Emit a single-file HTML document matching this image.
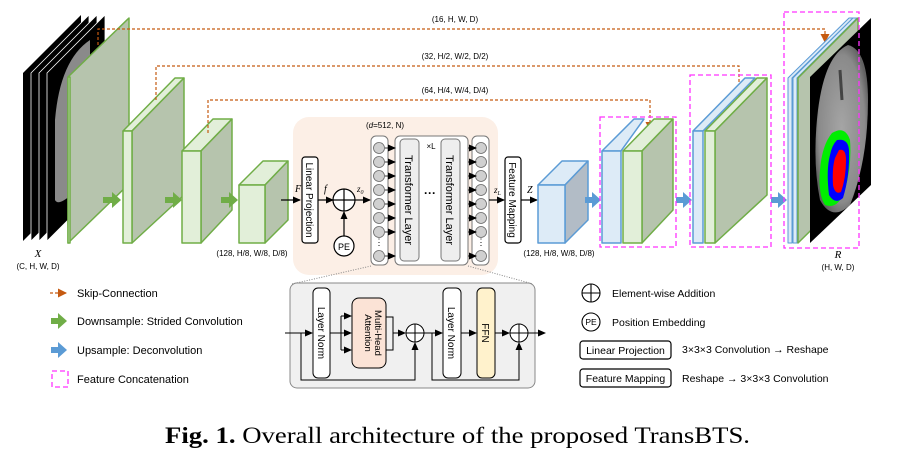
<!DOCTYPE html>
<html><head><meta charset="utf-8"><style>
html,body{margin:0;padding:0;background:#fff;}
svg{display:block;font-family:"Liberation Sans",sans-serif;}
</style></head><body>
<svg width="911" height="456" viewBox="0 0 911 456" xmlns="http://www.w3.org/2000/svg">
<defs>
<marker id="ab" markerWidth="8" markerHeight="8" refX="7" refY="4" orient="auto" markerUnits="userSpaceOnUse"><path d="M0,0.5 L8,4 L0,7.5z" fill="#000"/></marker>
<marker id="ao" markerWidth="9" markerHeight="9" refX="8" refY="4.5" orient="auto" markerUnits="userSpaceOnUse"><path d="M0,0 L9,4.5 L0,9z" fill="#c55a11"/></marker>
<radialGradient id="br" cx="50%" cy="50%" r="55%"><stop offset="0" stop-color="#a5a5a5"/><stop offset="0.8" stop-color="#8a8a8a"/><stop offset="1" stop-color="#606060"/></radialGradient>
</defs>

<!-- MRI slices -->
<g>
<polygon points="23,73 81,15 81,183 23,241" fill="#000"/>
<polygon points="31,73 89,15 89,183 31,241" fill="#000" stroke="#fff" stroke-width="0.8"/>
<polygon points="39,73 97,15 97,183 39,241" fill="#000" stroke="#fff" stroke-width="0.8"/>
<polygon points="47,73 105,15 105,183 47,241" fill="#000" stroke="#fff" stroke-width="0.8"/>
<path d="M55,120 Q60,60 90,40 L90,175 Q60,210 55,200z" fill="#8a8a8a"/>
</g>

<!-- encoder boxes -->
<g stroke="#70ad47" stroke-width="1.5" stroke-linejoin="round">
<polygon points="68,77 129,18 129,184 68,243" fill="#b6c4ad"/>
<rect x="68" y="77" width="2" height="166" fill="#e2efd9"/>
<polygon points="123,131 175,78 184,78 132,131" fill="#e2efd9"/>
<polygon points="132,131 184,78 184,195 132,243" fill="#b6c4ad"/>
<rect x="123" y="131" width="9" height="112" fill="#e2efd9"/>
<polygon points="182,151 213,119 232,119 201,151" fill="#e2efd9"/>
<polygon points="201,151 232,119 232,210 201,243" fill="#b6c4ad"/>
<rect x="182" y="151" width="19" height="92" fill="#e2efd9"/>
<polygon points="239,185 263,161 288,161 265,185" fill="#e2efd9"/>
<polygon points="265,185 288,161 288,220 265,243" fill="#b6c4ad"/>
<rect x="239" y="185" width="26" height="58" fill="#e2efd9"/>
</g>
<g fill="#70ad47">
<path d="M103,197 h9 v-5 l9,8 -9,8 v-5 h-9z"/>
<path d="M165,197 h8 v-5 l9,8 -9,8 v-5 h-8z"/>
<path d="M221,197 h8 v-5 l9,8 -9,8 v-5 h-8z"/>
</g>

<text x="38" y="257" font-family="Liberation Serif,serif" font-style="italic" font-size="11" text-anchor="middle">X</text>
<text x="38" y="269" font-size="8" text-anchor="middle">(C, H, W, D)</text>
<text x="252" y="256" font-size="8" text-anchor="middle">(128, H/8, W/8, D/8)</text>
<text x="559" y="256" font-size="8" text-anchor="middle">(128, H/8, W/8, D/8)</text>

<!-- skip connections -->
<g stroke="#c55a11" stroke-width="1.2" stroke-dasharray="3,2" fill="none">
<path d="M98,45 V29 H825 V42" marker-end="url(#ao)"/>
<path d="M156,100 V66 H739 V97" marker-end="url(#ao)"/>
<path d="M208,133 V100 H650 V130" marker-end="url(#ao)"/>
</g>
<g font-size="8" text-anchor="middle">
<text x="455" y="22">(16, H, W, D)</text>
<text x="455" y="59">(32, H/2, W/2, D/2)</text>
<text x="455" y="93">(64, H/4, W/4, D/4)</text>
</g>

<!-- transformer region -->
<rect x="293" y="117" width="205" height="158" rx="16" fill="#fcefe6"/>
<line x1="281" y1="200" x2="300" y2="200" stroke="#000" stroke-width="1.2" marker-end="url(#ab)"/>
<text x="295" y="192" font-family="Liberation Serif,serif" font-style="italic" font-size="10">F</text>
<rect x="302" y="157" width="16" height="86" rx="3" fill="#fff" stroke="#000" stroke-width="1.2"/>
<text transform="translate(306,200) rotate(90)" font-size="10" text-anchor="middle">Linear Projection</text>
<line x1="318" y1="200" x2="333" y2="200" stroke="#000" stroke-width="1.2" marker-end="url(#ab)"/>
<text x="324" y="192" font-family="Liberation Serif,serif" font-style="italic" font-size="10">f</text>
<circle cx="344" cy="200" r="11" fill="#fff" stroke="#000" stroke-width="1.2"/>
<path d="M333,200 h22 M344,189 v22" stroke="#000" stroke-width="1.2"/>
<circle cx="344" cy="246" r="10" fill="#fff" stroke="#000" stroke-width="1.2"/>
<text x="344" y="250" font-size="9" text-anchor="middle">PE</text>
<line x1="344" y1="236" x2="344" y2="212" stroke="#000" stroke-width="1.2" marker-end="url(#ab)"/>
<line x1="355" y1="200" x2="370" y2="200" stroke="#000" stroke-width="1.2" marker-end="url(#ab)"/>
<text x="357" y="192" font-family="Liberation Serif,serif" font-style="italic" font-size="9">z<tspan font-size="6" dy="2">0</tspan></text>
<text x="385" y="128" font-size="8" text-anchor="middle">(<tspan font-style="italic">d</tspan>=512, N)</text>

<rect x="371" y="136" width="17" height="129" rx="5" fill="#fff" stroke="#777"/>
<rect x="472" y="136" width="17" height="129" rx="5" fill="#fff" stroke="#777"/>
<rect x="395" y="136" width="73" height="129" rx="5" fill="#fff" stroke="#777"/>
<rect x="400" y="139" width="19" height="122" rx="4" fill="#eee" stroke="#777"/>
<rect x="441" y="139" width="19" height="122" rx="4" fill="#eee" stroke="#777"/>
<text transform="translate(405,200) rotate(90)" font-size="11" text-anchor="middle">Transformer Layer</text>
<text transform="translate(446,200) rotate(90)" font-size="11" text-anchor="middle">Transformer Layer</text>
<text x="431" y="149" font-size="8" text-anchor="middle">×L</text>
<text x="430" y="197" font-size="12" font-weight="bold" text-anchor="middle">···</text>
<g fill="#d0d0d0" stroke="#666" stroke-width="0.8">
<circle cx="379" cy="148" r="5.5"/><circle cx="379" cy="162" r="5.5"/><circle cx="379" cy="176" r="5.5"/><circle cx="379" cy="190" r="5.5"/><circle cx="379" cy="204" r="5.5"/><circle cx="379" cy="218" r="5.5"/><circle cx="379" cy="232" r="5.5"/><circle cx="379" cy="256" r="5.5"/>
<circle cx="481" cy="148" r="5.5"/><circle cx="481" cy="162" r="5.5"/><circle cx="481" cy="176" r="5.5"/><circle cx="481" cy="190" r="5.5"/><circle cx="481" cy="204" r="5.5"/><circle cx="481" cy="218" r="5.5"/><circle cx="481" cy="232" r="5.5"/><circle cx="481" cy="256" r="5.5"/>
</g>
<text x="379" y="245" font-size="9" text-anchor="middle">⋮</text>
<text x="481" y="245" font-size="9" text-anchor="middle">⋮</text>
<g stroke="#000" stroke-width="0.8" marker-end="url(#ab)">
<line x1="385" y1="148" x2="395" y2="148"/><line x1="385" y1="162" x2="395" y2="162"/><line x1="385" y1="176" x2="395" y2="176"/><line x1="385" y1="190" x2="395" y2="190"/><line x1="385" y1="204" x2="395" y2="204"/><line x1="385" y1="218" x2="395" y2="218"/><line x1="385" y1="232" x2="395" y2="232"/><line x1="385" y1="256" x2="395" y2="256"/>
<line x1="468" y1="148" x2="476" y2="148"/><line x1="468" y1="162" x2="476" y2="162"/><line x1="468" y1="176" x2="476" y2="176"/><line x1="468" y1="190" x2="476" y2="190"/><line x1="468" y1="204" x2="476" y2="204"/><line x1="468" y1="218" x2="476" y2="218"/><line x1="468" y1="232" x2="476" y2="232"/><line x1="468" y1="256" x2="476" y2="256"/>
</g>
<line x1="489" y1="200" x2="504" y2="200" stroke="#000" stroke-width="1.2" marker-end="url(#ab)"/>
<text x="494" y="193" font-family="Liberation Serif,serif" font-style="italic" font-size="9">z<tspan font-size="6" dy="2">L</tspan></text>
<rect x="505" y="157" width="16" height="86" rx="3" fill="#fff" stroke="#000" stroke-width="1.2"/>
<text transform="translate(509,200) rotate(90)" font-size="10" text-anchor="middle">Feature Mapping</text>
<line x1="521" y1="200" x2="537" y2="200" stroke="#000" stroke-width="1.2" marker-end="url(#ab)"/>
<text x="527" y="193" font-family="Liberation Serif,serif" font-style="italic" font-size="10">Z</text>

<!-- decoder -->
<g stroke-width="1.5" stroke-linejoin="round">
<polygon points="538,185 562,161 588,161 565,185" fill="#ddebf7" stroke="#5b9bd5"/>
<polygon points="565,185 588,161 588,220 565,243" fill="#b2bcc6" stroke="#5b9bd5"/>
<rect x="538" y="185" width="27" height="58" fill="#ddebf7" stroke="#5b9bd5"/>

<polygon points="602,151 634,119 644,119 621,151" fill="#ddebf7" stroke="#5b9bd5"/>
<rect x="602" y="151" width="19" height="92" fill="#ddebf7" stroke="#5b9bd5"/>
<polygon points="623,151 654,119 673,119 642,151" fill="#e2efd9" stroke="#70ad47"/>
<polygon points="642,151 673,119 673,210 642,243" fill="#b6c4ad" stroke="#70ad47"/>
<rect x="623" y="151" width="19" height="92" fill="#e2efd9" stroke="#70ad47"/>

<polygon points="693,131 745,78 755,78 703,131" fill="#ddebf7" stroke="#5b9bd5"/>
<rect x="693" y="131" width="10" height="112" fill="#ddebf7" stroke="#5b9bd5"/>
<polygon points="705,131 757,78 767,78 715,131" fill="#e2efd9" stroke="#70ad47"/>
<polygon points="715,131 767,78 767,195 715,243" fill="#b6c4ad" stroke="#70ad47"/>
<rect x="705" y="131" width="10" height="112" fill="#e2efd9" stroke="#70ad47"/>

<polygon points="788,78 849,18 853,18 792,78 792,243 788,243" fill="#ddebf7" stroke="#5b9bd5" stroke-width="1"/>
<polygon points="793,78 853,18 857,18 797,78 797,243 793,243" fill="#ddebf7" stroke="#5b9bd5" stroke-width="1"/>
<polygon points="798,78 858,18 858,184 798,243" fill="#b6c4ad" stroke="#70ad47"/>
</g>
<polygon points="810,77 871,18 871,185 810,243" fill="#000"/>
<path d="M818,110 Q825,55 848,45 Q868,50 868,100 Q868,160 850,205 Q832,222 820,200 Q812,160 818,110z" fill="url(#br)"/>
<path d="M840,70 L842,100" stroke="#444" stroke-width="3"/>
<path d="M832,133 Q845,125 850,140 Q852,165 845,190 Q838,210 825,205 Q818,195 820,170 Q822,145 832,133z" fill="#00ee00"/>
<path d="M837,140 Q848,138 849,150 Q850,175 843,198 Q835,205 829,195 Q826,170 830,155 Q832,145 837,140z" fill="#0000ff"/>
<path d="M839,150 Q846,148 846,160 Q846,178 841,192 Q835,195 833,185 Q832,168 835,158z" fill="#ff0000"/>

<g fill="#5b9bd5">
<path d="M585,197 h7 v-5 l9,8 -9,8 v-5 h-7z"/>
<path d="M676,197 h7 v-5 l9,8 -9,8 v-5 h-7z"/>
<path d="M771,197 h7 v-5 l9,8 -9,8 v-5 h-7z"/>
</g>
<g fill="none" stroke="#ff33ff" stroke-width="1.3" stroke-dasharray="5,3">
<rect x="600" y="117" width="76" height="130"/>
<rect x="690" y="75" width="81" height="172"/>
<rect x="784" y="12" width="75" height="236"/>
</g>
<text x="838" y="258" font-family="Liberation Serif,serif" font-style="italic" font-size="11" text-anchor="middle">R</text>
<text x="838" y="270" font-size="8" text-anchor="middle">(H, W, D)</text>

<!-- transformer detail -->
<path d="M371,266 L292,284 M468,266 L533,284" stroke="#888" stroke-dasharray="1,1.5" fill="none"/>
<rect x="290" y="283" width="245" height="105" rx="7" fill="#f0f0f0" stroke="#888"/>
<rect x="313" y="288" width="17" height="90" rx="5" fill="#fff" stroke="#000"/>
<text transform="translate(318,333) rotate(90)" font-size="10" text-anchor="middle">Layer Norm</text>
<rect x="352" y="298" width="34" height="70" rx="7" fill="#fbe3d6" stroke="#000"/>
<text transform="translate(375,333) rotate(90)" font-size="9.5" text-anchor="middle">Multi-Head</text>
<text transform="translate(365,333) rotate(90)" font-size="9.5" text-anchor="middle">Attention</text>
<rect x="443" y="288" width="18" height="90" rx="5" fill="#fff" stroke="#000"/>
<text transform="translate(448,333) rotate(90)" font-size="10" text-anchor="middle">Layer Norm</text>
<rect x="477" y="288" width="18" height="90" rx="5" fill="#fff2cc" stroke="#000"/>
<text transform="translate(482,333) rotate(90)" font-size="10" text-anchor="middle">FFN</text>
<g stroke="#000" stroke-width="1" fill="none">
<line x1="285" y1="333" x2="312" y2="333" marker-end="url(#ab)"/>
<path d="M301,333 V380 H415 V343" marker-end="url(#ab)"/>
<path d="M330,333 H341 M341,316 V350"/>
<line x1="341" y1="316" x2="351" y2="316" marker-end="url(#ab)"/>
<line x1="341" y1="333" x2="351" y2="333" marker-end="url(#ab)"/>
<line x1="341" y1="350" x2="351" y2="350" marker-end="url(#ab)"/>
<path d="M386,317 H393 V350 H386"/>
<line x1="393" y1="333" x2="405" y2="333" marker-end="url(#ab)"/>
<line x1="424" y1="333" x2="442" y2="333" marker-end="url(#ab)"/>
<path d="M432,333 V380 H519 V343" marker-end="url(#ab)"/>
<line x1="461" y1="333" x2="476" y2="333" marker-end="url(#ab)"/>
<line x1="495" y1="333" x2="509" y2="333" marker-end="url(#ab)"/>
<line x1="528" y1="333" x2="545" y2="333" marker-end="url(#ab)"/>
</g>
<g stroke="#000" stroke-width="1" fill="#fff">
<circle cx="415" cy="333" r="9"/><path d="M406,333 h18 M415,324 v18"/>
<circle cx="519" cy="333" r="9"/><path d="M510,333 h18 M519,324 v18"/>
</g>

<!-- legend left -->
<line x1="50" y1="293" x2="66" y2="293" stroke="#c55a11" stroke-width="1.2" stroke-dasharray="3,2" marker-end="url(#ao)"/>
<path d="M51,318 h7 v-5 l9,8 -9,8 v-5 h-7z" fill="#70ad47"/>
<path d="M51,347 h7 v-5 l9,8 -9,8 v-5 h-7z" fill="#5b9bd5"/>
<rect x="52" y="371" width="16" height="16" fill="none" stroke="#ff33ff" stroke-width="1.3" stroke-dasharray="5,3"/>
<g font-size="11">
<text x="77" y="297">Skip-Connection</text>
<text x="77" y="325">Downsample: Strided Convolution</text>
<text x="77" y="354">Upsample: Deconvolution</text>
<text x="77" y="383">Feature Concatenation</text>
</g>
<!-- legend right -->
<g stroke="#000" stroke-width="1.1" fill="#fff">
<circle cx="591" cy="293" r="9"/><path d="M582,293 h18 M591,284 v18"/>
<circle cx="591" cy="322" r="9"/>
</g>
<text x="591" y="325" font-size="8.5" text-anchor="middle">PE</text>
<rect x="580" y="341" width="91" height="18" rx="3" fill="#fff" stroke="#000" stroke-width="1.2"/>
<rect x="580" y="369" width="91" height="18" rx="3" fill="#fff" stroke="#000" stroke-width="1.2"/>
<g font-size="10.5">
<text x="612" y="297">Element-wise Addition</text>
<text x="612" y="326">Position Embedding</text>
<text x="625.5" y="354" text-anchor="middle" font-size="10.5">Linear Projection</text>
<text x="625.5" y="382" text-anchor="middle" font-size="10.5">Feature Mapping</text>
<text x="682" y="353">3×3×3 Convolution → Reshape</text>
<text x="682" y="382">Reshape → 3×3×3 Convolution</text>
</g>

<text x="165" y="443" font-family="Liberation Serif,serif" font-size="23" textLength="585" lengthAdjust="spacingAndGlyphs"><tspan font-weight="bold">Fig. 1.</tspan> Overall architecture of the proposed TransBTS.</text>
</svg>
</body></html>
